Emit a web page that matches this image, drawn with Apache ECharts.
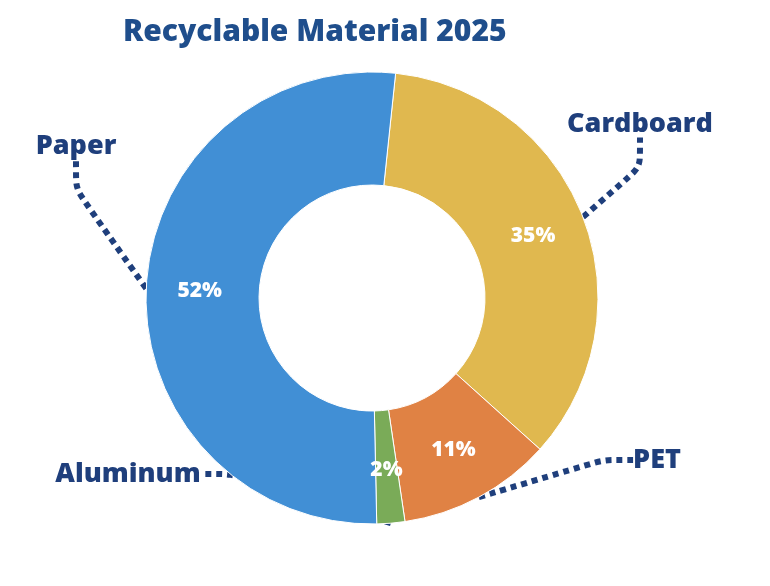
<!DOCTYPE html>
<html>
<head>
<meta charset="utf-8">
<script src="https://cdn.jsdelivr.net/npm/echarts@6/dist/echarts.min.js"></script>
<style>
  html, body { margin: 0; padding: 0; background: #fff; }
  #chart { width: 770px; height: 586px; }
</style>
</head>
<body>
<div id="chart"></div>
<script>
// data
var categories = ['Cardboard', 'PET', 'Aluminum', 'Paper'];
var shares = [35, 11, 2, 52];
var colors = ['#e0b84f', '#e08244', '#7aab58', '#418fd5'];

// where the outer names sit
var namePos = [[640, 124], [657, 460], [128, 474], [76, 146]];

var chart = echarts.init(document.getElementById('chart'));

var pieData = categories.map(function (c, i) {
  return { name: c, value: shares[i], itemStyle: { color: colors[i] } };
});

var font = '"Open Sans", "Noto Sans", sans-serif';
var navy = '#1f3f7c';

chart.setOption({
  title: {
    text: 'Recyclable Material 2025',
    left: 118, top: 12,
    textStyle: { color: '#1f4e8c', fontSize: 30, fontWeight: 800, fontFamily: font }
  },
  series: [
    {
      type: 'pie',
      center: [372, 298],
      radius: [113, 226],
      startAngle: 84,
      silent: true,
      data: pieData,
      itemStyle: { borderColor: '#fff', borderWidth: 1 },
      label: {
        position: 'inside',
        formatter: '{c}%',
        color: '#fff',
        fontSize: 21,
        fontWeight: 800,
        fontFamily: font
      },
      labelLine: { show: false }
    },
    {
      type: 'pie',
      center: [372, 298],
      radius: [113, 226],
      startAngle: 84,
      silent: true,
      z: 1,
      data: pieData.map(function (d) {
        return { name: d.name, value: d.value, itemStyle: { color: 'rgba(0,0,0,0)' } };
      }),
      label: {
        position: 'outside',
        formatter: '{b}',
        color: navy,
        fontSize: 27,
        fontWeight: 800,
        fontFamily: font,
        overflow: 'none'
      },
      labelLine: {
        show: true,
        length: 20,
        length2: 30,
        smooth: 0.2,
        lineStyle: { color: navy, width: 6, type: [6, 5] }
      },
      labelLayout: function (p) {
        var pos = namePos[p.dataIndex];
        return { x: pos[0], y: pos[1], align: 'center', verticalAlign: 'middle' };
      }
    }
  ]
});
</script>
</body>
</html>
